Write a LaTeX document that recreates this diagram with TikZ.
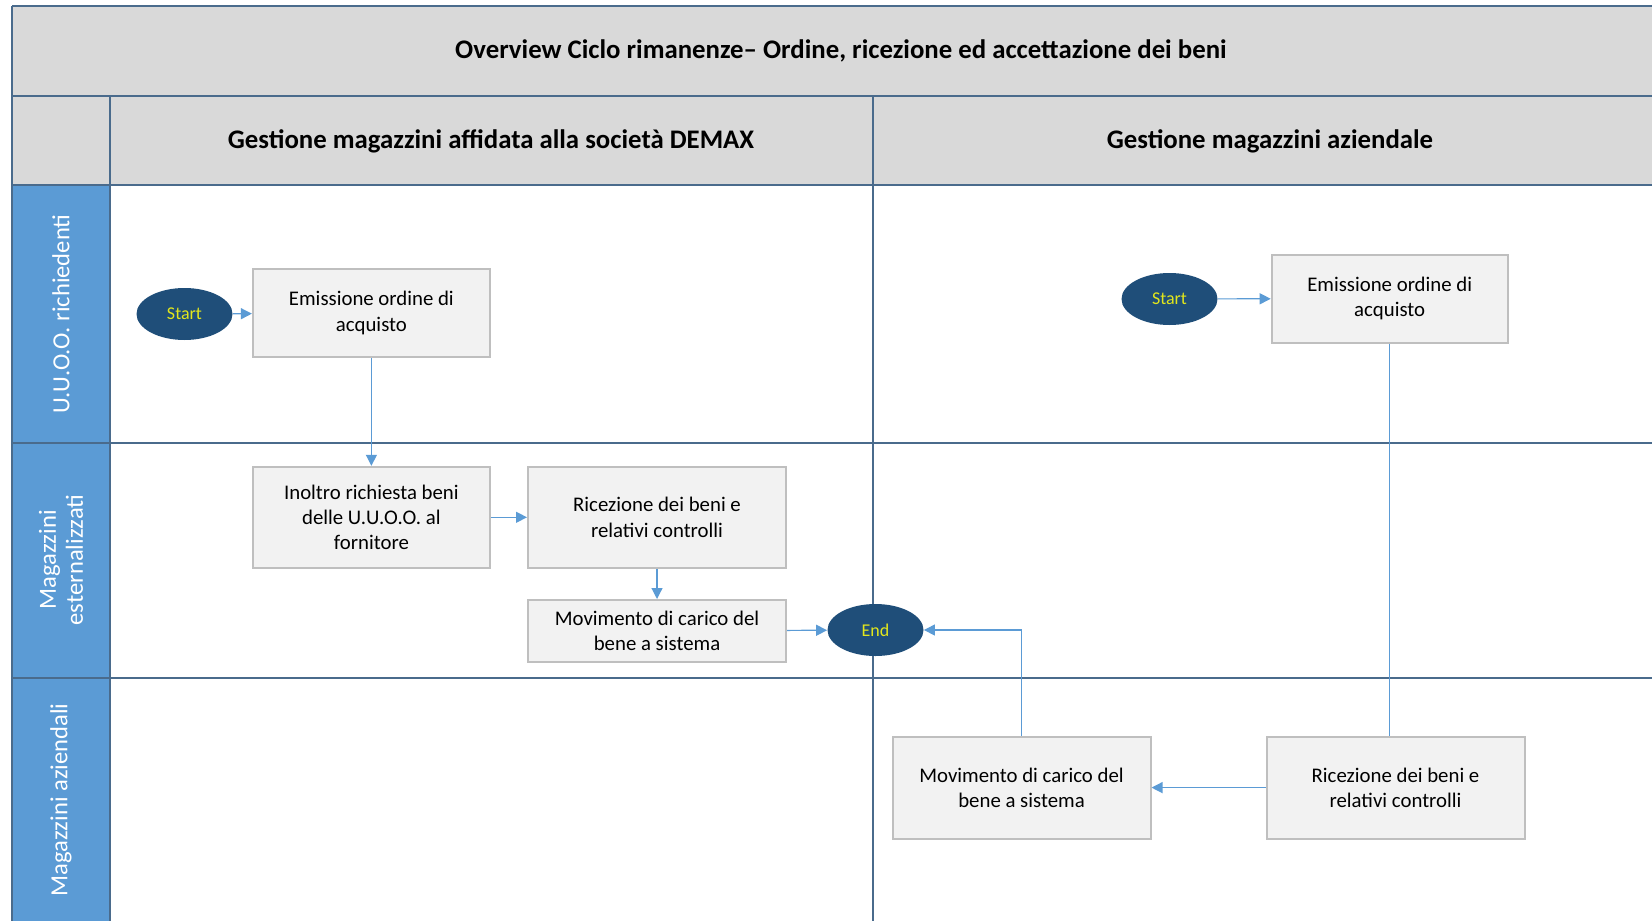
\documentclass[tikz,border=0pt]{standalone}
\usepackage{fontspec}
\setmainfont{Carlito}
\usetikzlibrary{arrows.meta}
\usetikzlibrary{shapes.geometric}
\tikzstyle{swimlane} = [x = .5pt, y = -.5pt]
\definecolor{gridColor}{HTML}{4A6B8C}
\definecolor{headerGray}{HTML}{D9D9D9}
\definecolor{laneBlue}{HTML}{5B9BD5}
\definecolor{boxFill}{HTML}{F2F2F2}
\definecolor{boxLine}{HTML}{BFBFBF}
\definecolor{ovalFill}{HTML}{1F4E79}
\definecolor{ovalText}{HTML}{E2E61C}
\definecolor{flowColor}{HTML}{5B9BD5}
\tikzstyle{gridLine} = [color=gridColor, line width=1pt]
\tikzstyle{headerText} = [font=\bfseries\fontsize{13.4}{16}\selectfont]
\tikzstyle{laneText} = [color=white, rotate=90, align=center, font=\fontsize{12.3}{13.5}\selectfont]
\tikzstyle{activityStyle} = [draw=boxLine, fill=boxFill, line width=1pt, align=center, inner sep=0pt, font=\fontsize{10.4}{12.6}\selectfont]
\tikzstyle{terminalStyle} = [ellipse, fill=ovalFill, inner sep=0pt, minimum width=48pt, minimum height=26pt, text=ovalText, font=\fontsize{9}{10}\selectfont]
\tikzstyle{flowLine} = [color=flowColor, line width=.6pt]
\tikzstyle{flowArrow} = [flowLine, -{Triangle[length=5.5pt, width=5.5pt]}]
\newcommand{\horizontalLaneLine}[1]{\draw [gridLine] (12,#1) -- (1680,#1);}
\newcommand{\verticalLaneLine}[2]{\draw [gridLine] (#1,#2) -- (#1,940);}

\begin{document}
\begin{tikzpicture}[swimlane]
    \useasboundingbox (0,0) rectangle (1652,920);
    \clip (0,0) rectangle (1652,920);
    % table
    \fill [headerGray] (12,6) rectangle (1680,185);
    \fill [laneBlue] (12,185) rectangle (110,940);
    \horizontalLaneLine{6}
    \horizontalLaneLine{96}
    \horizontalLaneLine{185}
    \horizontalLaneLine{442.5}
    \horizontalLaneLine{677.5}
    \verticalLaneLine{12}{6}
    \verticalLaneLine{110}{96}
    \verticalLaneLine{873}{96}
    \node [headerText] (title) at (841,51) {Overview Ciclo rimanenze– Ordine, ricezione ed accettazione dei beni};
    \node [headerText] (demax) at (491,141) {Gestione magazzini affidata alla società DEMAX};
    \node [headerText] (aziendale) at (1270,141) {Gestione magazzini aziendale};
    \node [laneText] (laneRichiedenti) at (61,314) {U.U.O.O. richiedenti};
    \node [laneText] (laneEsterni) at (61,560) {Magazzini\\esternalizzati};
    \node [laneText] (laneAziendali) at (61,800) {Magazzini aziendali};
    % DEMAX
    \node [terminalStyle] (start1) at (184.5,314) {Start};
    \node [activityStyle, minimum width=118.5pt, minimum height=44pt] (emissione1) at (371.4,313) {Emissione ordine di\\acquisto};
    \node [activityStyle, minimum width=118.5pt, minimum height=50.5pt] (inoltro) at (371.4,517.3) {Inoltro richiesta beni\\delle U.U.O.O. al\\fornitore};
    \node [activityStyle, minimum width=129pt, minimum height=50.5pt] (ricezione1) at (657,517.3) {Ricezione dei beni e\\relativi controlli};
    \node [activityStyle, minimum width=129pt, minimum height=31pt] (movimento1) at (657,631) {Movimento di carico del\\bene a sistema};
    \node [terminalStyle] (end) at (875.5,630) {End};
    % aziendale
    \node [terminalStyle] (start2) at (1169.5,299) {Start};
    \node [activityStyle, minimum width=118pt, minimum height=44pt] (emissione2) at (1389.7,298.5) {Emissione ordine di\\acquisto};
    \node [activityStyle, minimum width=129pt, minimum height=51pt] (movimento2) at (1021.5,787.6) {Movimento di carico del\\bene a sistema};
    \node [activityStyle, minimum width=129pt, minimum height=51pt] (ricezione2) at (1395.5,787.6) {Ricezione dei beni e\\relativi controlli};
    % connectors
    \draw [flowArrow] (start1) -- (emissione1);
    \draw [flowArrow] (emissione1) -- (inoltro);
    \draw [flowArrow] (inoltro) -- (ricezione1);
    \draw [flowArrow] (ricezione1) -- (movimento1);
    \draw [flowArrow] (movimento1) -- (end);
    \draw [flowArrow] (start2) -- (emissione2);
    \draw [flowLine] (emissione2.south) -- (emissione2.south |- ricezione2.north);
    \draw [flowArrow] (ricezione2) -- (movimento2);
    \draw [flowArrow] (movimento2.north) |- (end.east);
\end{tikzpicture}
\end{document}
